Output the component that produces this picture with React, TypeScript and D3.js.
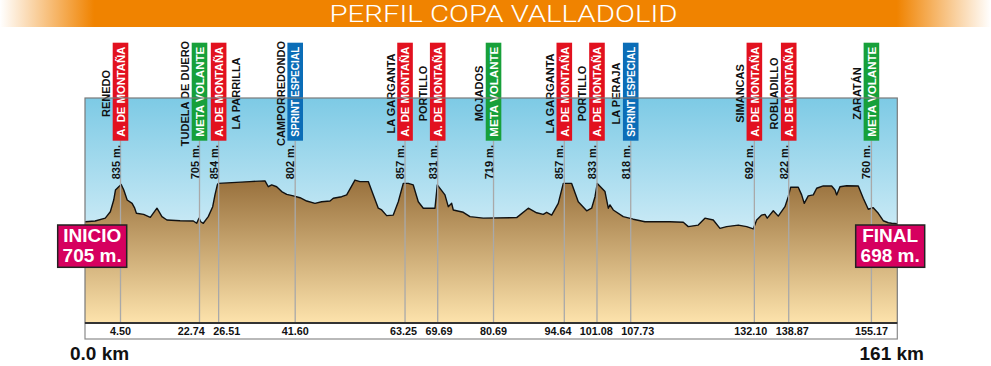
import { area, line, scaleLinear } from 'd3'

// elevation profile
const profileKm = [
  0, 1.29, 2.57, 3.21, 3.64, 3.86, 4.28, 4.66, 5.26, 6.04, 7.18, 7.78, 8.17, 9.84, 11.38, 12.92, 14.07, 15.21,
  18.26, 21.31, 22.09, 22.62, 22.98, 23.49, 24.47, 25.34, 25.79, 26.25, 26.44, 32.69, 35.65, 36.3, 36.97, 37.95,
  38.94, 39.93, 41.23, 42.55, 43.87, 45.5, 46.82, 48.46, 49.11, 50.76, 51.75, 53.38, 54.37, 56.01, 57.0, 57.98,
  58.65, 59.63, 60.93, 61.92, 62.9, 63.89, 64.87, 65.86, 66.85, 69.15, 69.61, 71.12, 71.77, 72.44, 72.76, 74.73,
  76.05, 78.67, 85.25, 87.54, 89.19, 90.49, 91.16, 92.15, 93.45, 94.44, 96.09, 97.39, 99.05, 100.03, 100.69,
  101.14, 102.66, 103.31, 103.64, 104.29, 106.26, 108.23, 110.54, 115.47, 118.09, 119.07, 121.04, 122.36, 124.0,
  125.32, 126.64, 128.93, 130.58, 131.88, 132.55, 133.54, 134.19, 134.64, 135.83, 136.81, 138.13, 138.78, 139.25,
  140.75, 141.42, 141.93, 142.72, 143.71, 144.38, 145.68, 147.33, 147.99, 148.32, 148.97, 150.29, 152.58, 153.56,
  154.55, 155.53, 156.52, 157.5, 158.49, 159.16, 160.27,
]
const profileElev = [
  706, 709, 720, 745, 791, 830, 843, 852, 830, 791, 778, 759, 739, 735, 723, 759, 726, 713,
  710, 709, 700, 720, 706, 700, 726, 765, 811, 850, 856, 863, 866, 843, 850, 843,
  824, 813, 807, 800, 787, 778, 784, 787, 798, 804, 811, 869, 863, 863, 811, 759,
  752, 730, 732, 784, 856, 856, 850, 784, 759, 759, 850, 811, 765, 778, 752, 743,
  726, 720, 722, 759, 741, 735, 743, 732, 778, 856, 856, 784, 749, 759, 804,
  856, 824, 759, 772, 752, 726, 716, 706, 706, 704, 687, 693, 720, 713,
  680, 687, 693, 687, 678, 713, 732, 735, 720, 749, 728, 765, 804, 841,
  841, 811, 778, 807, 811, 837, 846, 846, 830, 811, 843, 847, 846, 798,
  755, 761, 739, 710, 702, 700, 698,
]

// checkpoints
const markerKm = [4.5, 22.74, 26.51, 41.6, 63.25, 69.69, 80.69, 94.64, 101.08, 107.73, 132.1, 138.87, 155.17]
const markerName = [
  'RENEDO', 'TUDELA DE DUERO', 'LA PARRILLA', 'CAMPORREDONDO', 'LA GARGANTA', 'PORTILLO', 'MOJADOS',
  'LA GARGANTA', 'PORTILLO', 'LA PERAJA', 'SIMANCAS', 'ROBLADILLO', 'ZARATÁN',
]
const markerType = [
  'mont', 'meta', 'mont', 'sprint', 'mont', 'mont', 'meta', 'mont', 'mont', 'sprint', 'mont', 'mont', 'meta',
]
const markerElev = [835, 705, 854, 802, 857, 831, 719, 857, 833, 818, 692, 822, 760]

const typeLabel: Record<string, string> = {
  mont: 'A. DE MONTAÑA',
  meta: 'META VOLANTE',
  sprint: 'SPRINT ESPECIAL',
}
const typeColor: Record<string, string> = {
  mont: '#e2111f',
  meta: '#17a03a',
  sprint: '#0b6db7',
}

const title = 'PERFIL COPA VALLADOLID'
const startLabel = ['INICIO', '705 m.']
const endLabel = ['FINAL', '698 m.']
const totalKm = 161

const width = 991
const height = 366
const font = '"Liberation Sans", Arial, sans-serif'

// the original graphic's distance axis is a bit uneven at the start
const x = scaleLinear().domain([0, 4.5, 22.74, totalKm]).range([85, 120.5, 199.5, 901])
const y = scaleLinear().domain([310, 1190]).range([323, 98])

// push km labels apart where they would collide
const spreadLabels = (centers: number[], texts: string[], pad = 6) => {
  const pos = centers.slice()
  const half = texts.map((t) => t.length * 2.95)
  for (let iter = 0; iter < 30; iter++) {
    for (let i = 1; i < pos.length; i++) {
      const need = half[i - 1] + half[i] + pad
      const gap = pos[i] - pos[i - 1]
      if (gap < need) {
        const d = (need - gap) / 2
        pos[i - 1] -= d
        pos[i] += d
      }
    }
  }
  return pos
}

const App = () => {
  const pts = profileKm.map((km, i) => ({ km, m: profileElev[i] }))
  const left = x(0)
  const right = x(profileKm[profileKm.length - 1])
  const top = y(1190)
  const bottom = y(310)

  const areaPath = area<{ km: number; m: number }>()
    .x((d) => x(d.km))
    .y0(bottom)
    .y1((d) => y(d.m))(pts) ?? ''
  const linePath = line<{ km: number; m: number }>()
    .x((d) => x(d.km))
    .y((d) => y(d.m))(pts) ?? ''

  const kmTexts = markerKm.map((km) => km.toFixed(2))
  const kmPos = spreadLabels(markerKm.map((km) => x(km)), kmTexts)

  const boxTop = 42.7
  const boxBottom = 140.7
  const boxW = 15.6

  return (
    <svg
      width={width}
      height={height}
      viewBox={`0 0 ${width} ${height}`}
      style={{ position: 'absolute', left: 0, top: 0, background: '#fff' }}
      fontFamily={font}
    >
      <defs>
        <linearGradient id="bar" x1="0" x2="1" y1="0" y2="0">
          <stop offset="0%" stopColor="#f08300" stopOpacity={0} />
          <stop offset="9.5%" stopColor="#f08300" />
          <stop offset="90.5%" stopColor="#f08300" />
          <stop offset="100%" stopColor="#f08300" stopOpacity={0} />
        </linearGradient>
        <linearGradient id="sky" gradientUnits="userSpaceOnUse" x1="0" x2="0" y1={top} y2={bottom}>
          <stop offset="0%" stopColor="#7dcae5" />
          <stop offset="60%" stopColor="#cdebf6" />
          <stop offset="100%" stopColor="#e6f5fb" />
        </linearGradient>
        <linearGradient id="ground" gradientUnits="userSpaceOnUse" x1="0" x2="0" y1={y(870)} y2={bottom}>
          <stop offset="0%" stopColor="#98703c" />
          <stop offset="100%" stopColor="#fde3ac" />
        </linearGradient>
      </defs>

      <rect x={0} y={0} width={width} height={27} fill="url(#bar)" />
      <text
        x={width / 2 + 8}
        y={21.7}
        textAnchor="middle"
        fill="#fff"
        fontSize={24.5}
        fontFamily="Roboto, sans-serif"
        fontWeight={300}
        textLength={348}
        lengthAdjust="spacingAndGlyphs"
      >
        {title}
      </text>

      <rect x={left} y={top} width={right - left} height={bottom - top} fill="url(#sky)" />
      <path d={areaPath} fill="url(#ground)" />
      <path d={linePath} fill="none" stroke="#111" strokeWidth={1.4} strokeLinejoin="round" />

      {markerKm.map((km, i) => {
        const cx = x(km)
        const onRight = i === 2
        return (
          <g key={i}>
            <line x1={cx} x2={cx} y1={boxBottom} y2={bottom} stroke="#a9a9a9" strokeWidth={1.3} />
            <rect x={cx - boxW / 2} y={boxTop} width={boxW} height={boxBottom - boxTop} fill={typeColor[markerType[i]]} />
            <text
              transform={`translate(${cx + 4.3}, ${(boxTop + boxBottom) / 2}) rotate(-90)`}
              textAnchor="middle"
              fill="#fff"
              fontSize={11.5}
              fontWeight="bold"
              textLength={90}
              lengthAdjust="spacingAndGlyphs"
            >
              {typeLabel[markerType[i]]}
            </text>
            <text
              transform={`translate(${onRight ? cx + 21 : cx - 10.5}, 93.5) rotate(-90)`}
              textAnchor="middle"
              fill="#111"
              fontSize={11}
              fontWeight="bold"
            >
              {markerName[i]}
            </text>
            <text
              transform={`translate(${cx - 1}, 179.3) rotate(-90)`}
              textAnchor="start"
              fill="#111"
              fontSize={11}
              fontWeight="bold"
            >
              {`${markerElev[i]} m.`}
            </text>
            <text x={kmPos[i]} y={334.6} textAnchor="middle" fill="#111" fontSize={10.8} fontWeight="bold">
              {kmTexts[i]}
            </text>
          </g>
        )
      })}

      <rect x={left} y={top} width={right - left} height={bottom - top} fill="none" stroke="#7a7a7a" strokeWidth={1.2} />
      <rect x={left} y={bottom} width={right - left} height={16} fill="none" stroke="#8a8a8a" strokeWidth={1.2} />
      <line x1={left} x2={right} y1={bottom} y2={bottom} stroke="#333" strokeWidth={2} />

      <g>
        <rect x={left - 27.3} y={225} width={69} height={42.3} fill="#d6005f" stroke="#222" strokeWidth={1.5} />
        <text x={left + 7.2} y={242.4} textAnchor="middle" fill="#fff" fontSize={19} fontWeight="bold">
          {startLabel[0]}
        </text>
        <text x={left + 7.2} y={261.7} textAnchor="middle" fill="#fff" fontSize={19} fontWeight="bold">
          {startLabel[1]}
        </text>
      </g>
      <g>
        <rect x={right - 41.6} y={225} width={69} height={42.3} fill="#d6005f" stroke="#222" strokeWidth={1.5} />
        <text x={right - 7.1} y={242.4} textAnchor="middle" fill="#fff" fontSize={19} fontWeight="bold">
          {endLabel[0]}
        </text>
        <text x={right - 7.1} y={261.7} textAnchor="middle" fill="#fff" fontSize={19} fontWeight="bold">
          {endLabel[1]}
        </text>
      </g>

      <text x={70} y={360} fill="#111" fontSize={19} fontWeight="bold">
        {`${(0).toFixed(1)} km`}
      </text>
      <text x={924} y={360} textAnchor="end" fill="#111" fontSize={19} fontWeight="bold">
        {`${totalKm} km`}
      </text>
    </svg>
  )
}

export default App
